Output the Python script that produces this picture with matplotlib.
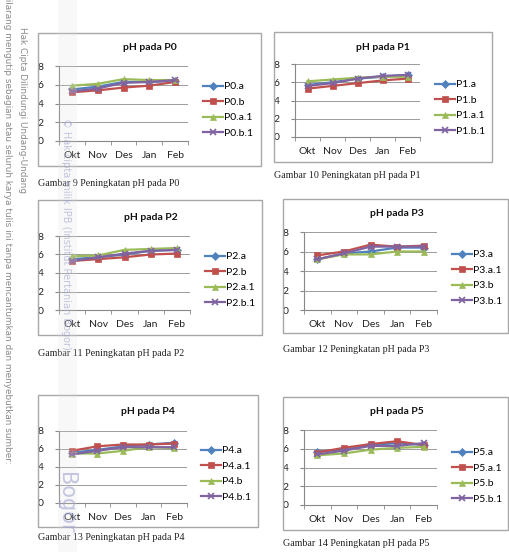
import matplotlib.pyplot as plt
from matplotlib.patches import Rectangle

W, H = 509, 552

months = ['Okt', 'Nov', 'Des', 'Jan', 'Feb']
colors = ['#4F81BD', '#C0504D', '#9BBB59', '#8064A2']
markers = ['D', 's', '^', 'x']

# pH values
p0_labels = ['P0.a', 'P0.b', 'P0.a.1', 'P0.b.1']
p0_values = [[5.5, 5.8, 6.3, 6.3, 6.4],
             [5.2, 5.4, 5.7, 5.9, 6.3],
             [5.9, 6.1, 6.6, 6.5, 6.5],
             [5.3, 5.6, 6.2, 6.3, 6.5]]

p1_labels = ['P1.a', 'P1.b', 'P1.a.1', 'P1.b.1']
p1_values = [[5.7, 6.0, 6.4, 6.6, 6.8],
             [5.3, 5.6, 5.9, 6.2, 6.4],
             [6.1, 6.3, 6.5, 6.6, 6.6],
             [5.6, 5.9, 6.4, 6.7, 6.8]]

p2_labels = ['P2.a', 'P2.b', 'P2.a.1', 'P2.b.1']
p2_values = [[5.5, 5.7, 6.0, 6.4, 6.5],
             [5.3, 5.5, 5.7, 6.0, 6.1],
             [5.8, 5.9, 6.5, 6.6, 6.7],
             [5.3, 5.7, 6.1, 6.4, 6.5]]

p3_labels = ['P3.a', 'P3.a.1', 'P3.b', 'P3.b.1']
p3_values = [[5.2, 5.8, 6.0, 6.4, 6.4],
             [5.6, 6.0, 6.7, 6.5, 6.6],
             [5.2, 5.7, 5.7, 6.0, 6.0],
             [5.2, 5.8, 6.5, 6.5, 6.5]]

p4_labels = ['P4.a', 'P4.a.1', 'P4.b', 'P4.b.1']
p4_values = [[5.6, 5.9, 6.3, 6.5, 6.7],
             [5.8, 6.3, 6.5, 6.5, 6.6],
             [5.5, 5.5, 5.8, 6.2, 6.1],
             [5.4, 5.8, 6.2, 6.2, 6.2]]

p5_labels = ['P5.a', 'P5.a.1', 'P5.b', 'P5.b.1']
p5_values = [[5.7, 5.9, 6.4, 6.6, 6.4],
             [5.6, 6.1, 6.5, 6.8, 6.4],
             [5.3, 5.5, 5.9, 6.1, 6.2],
             [5.4, 5.8, 6.3, 6.3, 6.6]]

titles = ['pH pada P0', 'pH pada P1', 'pH pada P2', 'pH pada P3', 'pH pada P4', 'pH pada P5']
captions = ['Gambar 9 Peningkatan pH pada P0', 'Gambar 10 Peningkatan pH pada P1',
            'Gambar 11 Peningkatan pH pada P2', 'Gambar 12 Peningkatan pH pada P3',
            'Gambar 13 Peningkatan pH pada P4', 'Gambar 14 Peningkatan pH pada P5']

# layout in pixels (x0, y0, x1, y1) measured from the top left
frames = [(38, 33, 261, 166), (274, 32, 492, 162), (38, 200, 262, 335),
          (283, 199, 508, 333), (38, 395, 258, 527), (283, 397, 508, 530)]
plot_boxes = [(59, 66, 188, 141), (295, 64, 420, 137), (59, 236, 190, 310),
              (304, 232, 437, 310), (59, 431, 187, 503), (304, 430, 437, 505)]
title_pos = [(150, 48), (383, 47), (151, 217), (397, 214), (148, 412), (397, 411)]
legend_pos = [(203, 110), (435, 108), (205, 280), (452, 278), (201, 474), (452, 476)]
caption_pos = [(38, 184), (274, 176), (38, 353), (283, 350), (38, 538), (283, 544)]

all_labels = [p0_labels, p1_labels, p2_labels, p3_labels, p4_labels, p5_labels]
all_values = [p0_values, p1_values, p2_values, p3_values, p4_values, p5_values]

plt.rcParams['font.family'] = ['Lato', 'DejaVu Sans']

fig = plt.figure(figsize=(W / 100, H / 100), dpi=100)
fig.patch.set_facecolor('white')


def px_axes(box, **kw):
    x0, y0, x1, y1 = box
    return fig.add_axes([x0 / W, 1 - y1 / H, (x1 - x0) / W, (y1 - y0) / H], **kw)


for i in range(6):
    x0, y0, x1, y1 = frames[i]
    fig.patches.append(Rectangle((x0 / W, 1 - y1 / H), (x1 - x0) / W, (y1 - y0) / H,
                                 transform=fig.transFigure, fill=False,
                                 ec='#a8a8a8', lw=1.0))

    ax = px_axes(plot_boxes[i])
    ax.set_facecolor('none')
    xs = [k + 0.5 for k in range(len(months))]
    for vals, lab, c, m in zip(all_values[i], all_labels[i], colors, markers):
        ax.plot(xs, vals, color=c, lw=1.6, marker=m, label=lab,
                markersize=4.5 if m != 'x' else 5, markeredgewidth=1.2 if m == 'x' else 0.5,
                markeredgecolor=c, clip_on=False)
    ax.set_xlim(0, 5)
    ax.set_ylim(0, 8)
    ax.set_yticks([0, 2, 4, 6, 8])
    ax.set_xticks(xs)
    ax.set_xticklabels(months)
    ax.set_xticks(range(6), minor=True)
    ax.tick_params(axis='x', which='major', length=0, pad=7, labelsize=7.5, labelcolor='#222222')
    ax.tick_params(axis='x', which='minor', length=3, color='#888888')
    ax.tick_params(axis='y', length=3, color='#888888', pad=8, labelsize=7.5, labelcolor='#222222')
    ax.grid(axis='y', color='#8c8c8c', lw=0.6)
    ax.set_axisbelow(True)
    for s in ['top', 'right']:
        ax.spines[s].set_visible(False)
    for s in ['left', 'bottom']:
        ax.spines[s].set_color('#888888')
        ax.spines[s].set_linewidth(0.8)

    lx, ly = legend_pos[i]
    ax.legend(loc='center left', bbox_to_anchor=(lx / W, 1 - ly / H),
              bbox_transform=fig.transFigure, frameon=False, fontsize=7.5,
              handlelength=1.9, handletextpad=0.15, labelspacing=0.6, borderpad=0,
              borderaxespad=0)

    tx, ty = title_pos[i]
    fig.text(tx / W, 1 - ty / H, titles[i], ha='center', va='center',
             fontsize=7.5, weight='bold', color='#111111')
    cx, cy = caption_pos[i]
    fig.text(cx / W, 1 - cy / H, captions[i], ha='left', va='center',
             fontsize=7.2, family='Liberation Serif', color='#222222')

# page watermark strip and texts
fig.patches.append(Rectangle((58 / W, 0), 19 / W, 1, transform=fig.transFigure,
                             color='#dcdcdc', alpha=0.2, lw=0, zorder=10))
fig.text(66 / W, 1 - 118 / H, '\u00a9 Hak cipta milik IPB (Institut Pertanian Bogor)',
         rotation=-90, ha='center', va='top', fontsize=7, color='#9aa0cc', alpha=0.6,
         zorder=11, family=['DejaVu Sans'])
fig.text(66 / W, 1 - 472 / H, 'Bogor', rotation=-90, ha='center', va='top',
         fontsize=15, color='#a0a2d0', alpha=0.6, zorder=11, family=['DejaVu Sans'])
fig.text(22 / W, 1 - 27 / H, 'Hak Cipta Dilindungi Undang-Undang', rotation=-90,
         ha='center', va='top', fontsize=6.4, color='#8a8a8a', family=['DejaVu Sans'])
fig.text(7 / W, 1 + 8 / H,
         'Dilarang mengutip sebagian atau seluruh karya tulis ini tanpa mencantumkan dan menyebutkan sumber:',
         rotation=-90, ha='center', va='top', fontsize=6.4, color='#8a8a8a',
         family=['DejaVu Sans'])

fig.savefig('out.png', dpi=100)
